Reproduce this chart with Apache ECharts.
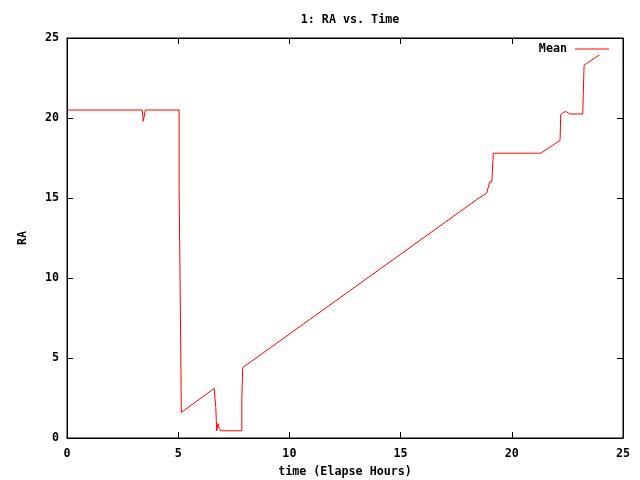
<!DOCTYPE html>
<html>
<head>
<meta charset="utf-8">
<script src="https://cdn.jsdelivr.net/npm/echarts@6/dist/echarts.min.js"></script>
<style>html,body{margin:0;padding:0;background:#fff;}#c{width:640px;height:480px;}</style>
</head>
<body>
<div id="c"></div>
<script>
var timeHours = [0, 3.38, 3.43, 3.47, 3.52, 5.04, 5.04, 5.11, 5.11, 5.14, 6.62, 6.69, 6.73, 6.79, 6.85, 6.91, 7.86, 7.86, 7.90, 18.42, 18.87, 18.95, 19.0, 19.1, 19.17, 21.15, 21.2, 21.3, 22.17, 22.2, 22.3, 22.45, 22.6, 23.19, 23.25, 23.94];
var raMean    = [20.5, 20.5, 19.8, 19.8, 20.5, 20.5, 15.8, 15.8, 6.3, 1.6, 3.1, 1.9, 0.45, 0.9, 0.6, 0.45, 0.45, 2.4, 4.4, 14.9, 15.3, 15.7, 16.0, 16.0, 17.8, 17.8, 17.7, 17.8, 18.6, 20.2, 20.35, 20.4, 20.25, 20.25, 23.3, 23.94];
var xTicks = [0, 5, 10, 15, 20, 25];
var yTicks = [0, 5, 10, 15, 20, 25];

var seriesData = timeHours.map(function (t, i) { return [t, raMean[i]]; });
var font = 'DejaVu Sans Mono';
var chart = echarts.init(document.getElementById('c'), null, {renderer: 'canvas'});
function tick() { return {show: true, inside: true, length: 6, lineStyle: {color: '#000', width: 1}}; }
function txt(sz) { return {fontFamily: font, fontSize: sz, fontWeight: 'bold', color: '#000'}; }
chart.setOption({
  animation: false,
  backgroundColor: '#fff',
  title: {
    text: '1: RA vs. Time', left: 345, top: 9, textAlign: 'center',
    textStyle: txt(11.7)
  },
  legend: {
    data: ['Mean'], right: 26, top: 38, align: 'right',
    icon: 'rect', itemWidth: 34, itemHeight: 1,
    textStyle: Object.assign(txt(11.7), {padding: [0, 3, 0, 0]})
  },
  grid: {left: 67, right: 17, top: 38, bottom: 42, show: true, borderColor: '#000', borderWidth: 1,
    containLabel: false, outerBoundsMode: 'none'},
  xAxis: [{
    type: 'value', min: 0, max: 25, interval: 5,
    name: 'time (Elapse Hours)', nameLocation: 'middle', nameGap: 28,
    nameTextStyle: txt(11.7),
    axisLine: {show: true, onZero: false, lineStyle: {color: '#000'}},
    axisTick: tick(), splitLine: {show: false},
    axisLabel: Object.assign(txt(11.7), {margin: 10,
      formatter: function (v) { return xTicks.indexOf(v) >= 0 ? String(v) : ''; }})
  }, {
    type: 'value', min: 0, max: 25, interval: 5, position: 'top',
    axisLine: {show: true, onZero: false, lineStyle: {color: '#000'}},
    axisTick: tick(), axisLabel: {show: false}, splitLine: {show: false}
  }],
  yAxis: [{
    type: 'value', min: 0, max: 25, interval: 5,
    name: 'RA', nameLocation: 'middle', nameGap: 38, nameRotate: 90,
    nameTextStyle: txt(11.7),
    axisLine: {show: true, onZero: false, lineStyle: {color: '#000'}},
    axisTick: tick(), splitLine: {show: false},
    axisLabel: Object.assign(txt(11.7), {margin: 8,
      formatter: function (v) { return yTicks.indexOf(v) >= 0 ? String(v) : ''; }})
  }, {
    type: 'value', min: 0, max: 25, interval: 5, position: 'right',
    axisLine: {show: true, onZero: false, lineStyle: {color: '#000'}},
    axisTick: tick(), axisLabel: {show: false}, splitLine: {show: false}
  }],
  series: [{
    name: 'Mean', type: 'line', data: seriesData, showSymbol: false, symbol: 'none',
    lineStyle: {color: '#ff0000', width: 1}, itemStyle: {color: '#ff0000'}
  }]
});
</script>
</body>
</html>
